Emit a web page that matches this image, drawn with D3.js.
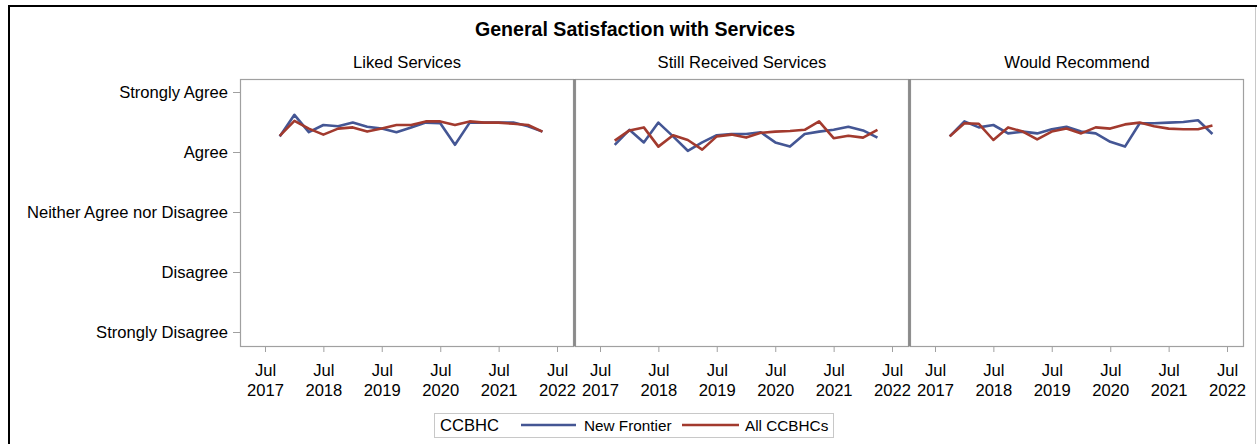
<!DOCTYPE html>
<html><head><meta charset="utf-8">
<script src="https://cdn.jsdelivr.net/npm/d3@7"></script>
<style>
html,body{margin:0;padding:0;background:#fff;}
svg{display:block;font-family:"Liberation Sans",Arial,sans-serif;}
</style></head>
<body>
<svg id="chart" width="1257" height="444"></svg>
<script>
const title = "General Satisfaction with Services";
const panels = ["Liked Services", "Still Received Services", "Would Recommend"];
const yLabels = ["Strongly Disagree", "Disagree", "Neither Agree nor Disagree", "Agree", "Strongly Agree"];
const yTickValues = [1, 2, 3, 4, 5];
const xTickYears = [2017, 2018, 2019, 2020, 2021, 2022];
const quarters = ["2017-10","2018-01","2018-04","2018-07","2018-10","2019-01","2019-04","2019-07","2019-10",
  "2020-01","2020-04","2020-07","2020-10","2021-01","2021-04","2021-07","2021-10","2022-01","2022-04"];
const seriesNames = ["New Frontier", "All CCBHCs"];
const legendTitle = "CCBHC";

// Panel 1: Liked Services
const likedNF  = [4.26,4.62,4.33,4.45,4.43,4.49,4.42,4.39,4.33,4.41,4.49,4.48,4.12,4.49,4.49,4.49,4.49,4.43,4.34];
const likedAll = [4.27,4.52,4.39,4.29,4.39,4.41,4.34,4.39,4.45,4.45,4.51,4.51,4.45,4.51,4.49,4.49,4.47,4.45,4.34];
// Panel 2: Still Received Services
const stillNF  = [4.12,4.37,4.16,4.49,4.26,4.02,4.16,4.28,4.30,4.30,4.33,4.16,4.09,4.30,4.34,4.37,4.42,4.36,4.24];
const stillAll = [4.19,4.36,4.41,4.09,4.28,4.20,4.04,4.26,4.29,4.24,4.32,4.34,4.35,4.37,4.51,4.23,4.27,4.24,4.37];
// Panel 3: Would Recommend
const recNF    = [4.26,4.51,4.41,4.45,4.31,4.34,4.31,4.38,4.42,4.34,4.31,4.17,4.09,4.48,4.48,4.49,4.50,4.53,4.30];
const recAll   = [4.26,4.48,4.47,4.20,4.41,4.34,4.21,4.34,4.39,4.31,4.41,4.39,4.46,4.49,4.43,4.39,4.38,4.38,4.44];

const panelData = [[likedNF, likedAll],[stillNF, stillAll],[recNF, recAll]];
const colors = ["#445694", "#A23A2E"];

const svg = d3.select("#chart");
const FONT = 16.6;

// outer frame
svg.append("line").attr("x1",8).attr("x2",1257).attr("y1",6).attr("y2",6).attr("stroke","#000").attr("stroke-width",2);
svg.append("line").attr("x1",9).attr("x2",9).attr("y1",5).attr("y2",444).attr("stroke","#000").attr("stroke-width",2);
svg.append("line").attr("x1",1255.5).attr("x2",1255.5).attr("y1",7).attr("y2",444).attr("stroke","#c8c8c8").attr("stroke-width",1);

svg.append("text").attr("x",635).attr("y",36).attr("text-anchor","middle")
  .attr("font-weight","bold").attr("font-size",19.6).attr("fill","#000").text(title);

const panelTop = 79, panelBottom = 346, panelW = 334;
const panelLeft = [240, 575, 910];

const y = d3.scaleLinear().domain([1,5]).range([332, 92]);
const parse = d3.timeParse("%Y-%m");
const dates = quarters.map(parse);
const x = d3.scaleTime().domain([new Date(2017,6,1), new Date(2022,6,1)]).range([25, 317]);

// y axis
const yAxis = d3.axisLeft(y).tickValues(yTickValues).tickFormat(d => yLabels[d-1]).tickSize(7).tickPadding(5);
const gy = svg.append("g").attr("transform",`translate(${panelLeft[0]},0)`).call(yAxis);
gy.select(".domain").remove();
gy.selectAll(".tick line").attr("stroke","#a0a0a0");
gy.selectAll(".tick text").attr("font-size",FONT).attr("font-family","Liberation Sans, Arial, sans-serif").attr("fill","#000");

panels.forEach((name, i) => {
  const g = svg.append("g").attr("transform",`translate(${panelLeft[i]},0)`);
  g.append("text").attr("x",panelW/2).attr("y",68).attr("text-anchor","middle")
    .attr("font-size",FONT).attr("fill","#000").text(name);

  const xAxis = d3.axisBottom(x).tickValues(xTickYears.map(yr => new Date(yr,6,1))).tickSize(6).tickFormat("");
  const gx = g.append("g").attr("transform",`translate(0,${panelBottom})`).call(xAxis);
  gx.select(".domain").remove();
  gx.selectAll(".tick line").attr("stroke","#a0a0a0");
  gx.selectAll(".tick").each(function(d){
    const t = d3.select(this).append("text").attr("fill","#000").attr("font-size",FONT)
      .attr("text-anchor","middle").attr("font-family","Liberation Sans, Arial, sans-serif");
    t.append("tspan").attr("x",0).attr("y",30).text(d3.timeFormat("%b")(d));
    t.append("tspan").attr("x",0).attr("y",50).text(d3.timeFormat("%Y")(d));
  });

  const line = d3.line().x((d,j) => x(dates[j])).y(d => y(d));
  panelData[i].forEach((vals, s) => {
    g.append("path").datum(vals).attr("d", line).attr("fill","none")
      .attr("stroke", colors[s]).attr("stroke-width",2.6).attr("stroke-linejoin","round");
  });

  g.append("rect").attr("x",0.5).attr("y",panelTop+0.5).attr("width",panelW-1).attr("height",panelBottom-panelTop)
    .attr("fill","none").attr("stroke","#a0a0a0").attr("stroke-width",1.2);
});
// darker dividers
[574.5, 909.5].forEach(px => {
  svg.append("line").attr("x1",px).attr("x2",px).attr("y1",panelTop).attr("y2",panelBottom+0.5)
    .attr("stroke","#8a8a8a").attr("stroke-width",2.5);
});

// legend
const lg = svg.append("g");
lg.append("rect").attr("x",434.5).attr("y",413.5).attr("width",399).attr("height",24)
  .attr("fill","#fff").attr("stroke","#c8c8c8");
lg.append("text").attr("x",440).attr("y",431).attr("font-size",FONT).attr("fill","#000").text(legendTitle);
const legendItems = [{x1:521,x2:576,tx:584},{x1:682,x2:739,tx:745}];
seriesNames.forEach((n, s) => {
  const it = legendItems[s];
  lg.append("line").attr("x1",it.x1).attr("x2",it.x2).attr("y1",425).attr("y2",425)
    .attr("stroke",colors[s]).attr("stroke-width",2.5);
  lg.append("text").attr("x",it.tx).attr("y",431).attr("font-size",15.3).attr("fill","#000").text(n);
});
</script>
</body></html>
